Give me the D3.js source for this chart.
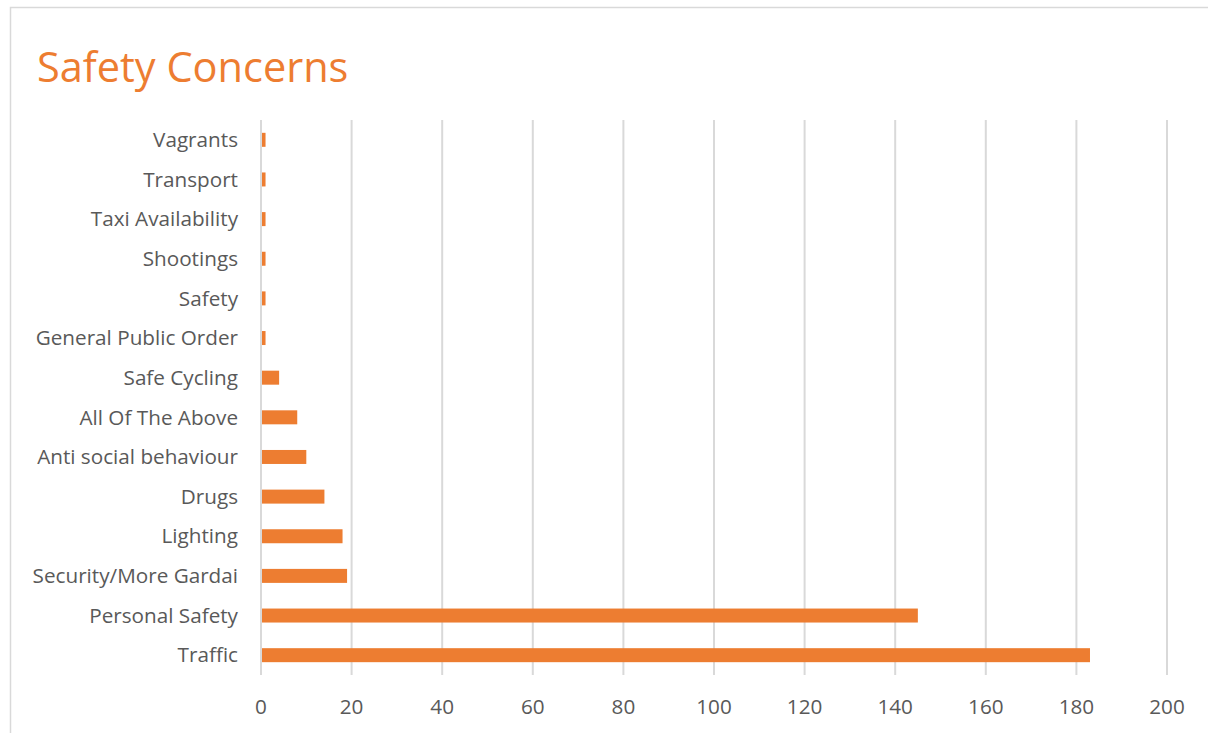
<!DOCTYPE html>
<html><head><meta charset="utf-8">
<script src="https://cdn.jsdelivr.net/npm/d3@7"></script>
<style>body{margin:0;background:#fff;} svg{display:block;}</style>
</head><body>
<svg id="c" width="1208" height="733"></svg>
<script>
const categories = ["Vagrants","Transport","Taxi Availability","Shootings","Safety","General Public Order","Safe Cycling","All Of The Above","Anti social behaviour","Drugs","Lighting","Security/More Gardai","Personal Safety","Traffic"];
const values = [1,1,1,1,1,1,4,8,10,14,18,19,145,183];
const tickValues = [0,20,40,60,80,100,120,140,160,180,200];
const title = "Safety Concerns";

const svg = d3.select("#c");
const font = "'Open Sans', 'Noto Sans', sans-serif";
svg.append("rect").attr("x",10.5).attr("y",7.5).attr("width",1260).attr("height",800)
  .attr("fill","#fff").attr("stroke","#d9d9d9").attr("stroke-width",1.5);

const x = d3.scaleLinear().domain([0,200]).range([261,1167]);
const y = d3.scaleBand().domain(categories).range([120,675]).paddingInner(0.647).paddingOuter(0.3235);

svg.append("text").attr("x",37).attr("y",82).attr("fill","#ED7D31")
  .style("font-family",font).style("font-size","41.5px").text(title);

const g = svg.append("g");
g.selectAll("line.grid").data(tickValues).join("line").attr("class","grid")
  .attr("x1",d=>x(d)).attr("x2",d=>x(d)).attr("y1",120).attr("y2",675)
  .attr("stroke","#d9d9d9").attr("stroke-width",2);

g.selectAll("rect.bar").data(categories).join("rect").attr("class","bar")
  .attr("x",x(0)+1).attr("y",d=>y(d)).attr("height",y.bandwidth())
  .attr("width",(d,i)=>x(values[i])-x(0)-1).attr("fill","#ED7D31");

g.selectAll("text.cat").data(categories).join("text").attr("class","cat")
  .attr("x",238).attr("y",d=>y(d)+y.bandwidth()/2).attr("dy","0.35em")
  .attr("text-anchor","end").attr("fill","#595959")
  .style("font-family",font).style("font-size","20.7px").text(d=>d);

g.selectAll("text.tick").data(tickValues).join("text").attr("class","tick")
  .attr("x",d=>x(d)).attr("y",714).attr("text-anchor","middle").attr("fill","#595959")
  .style("font-family",font).style("font-size","20.7px").text(d=>d);
</script>
</body></html>
